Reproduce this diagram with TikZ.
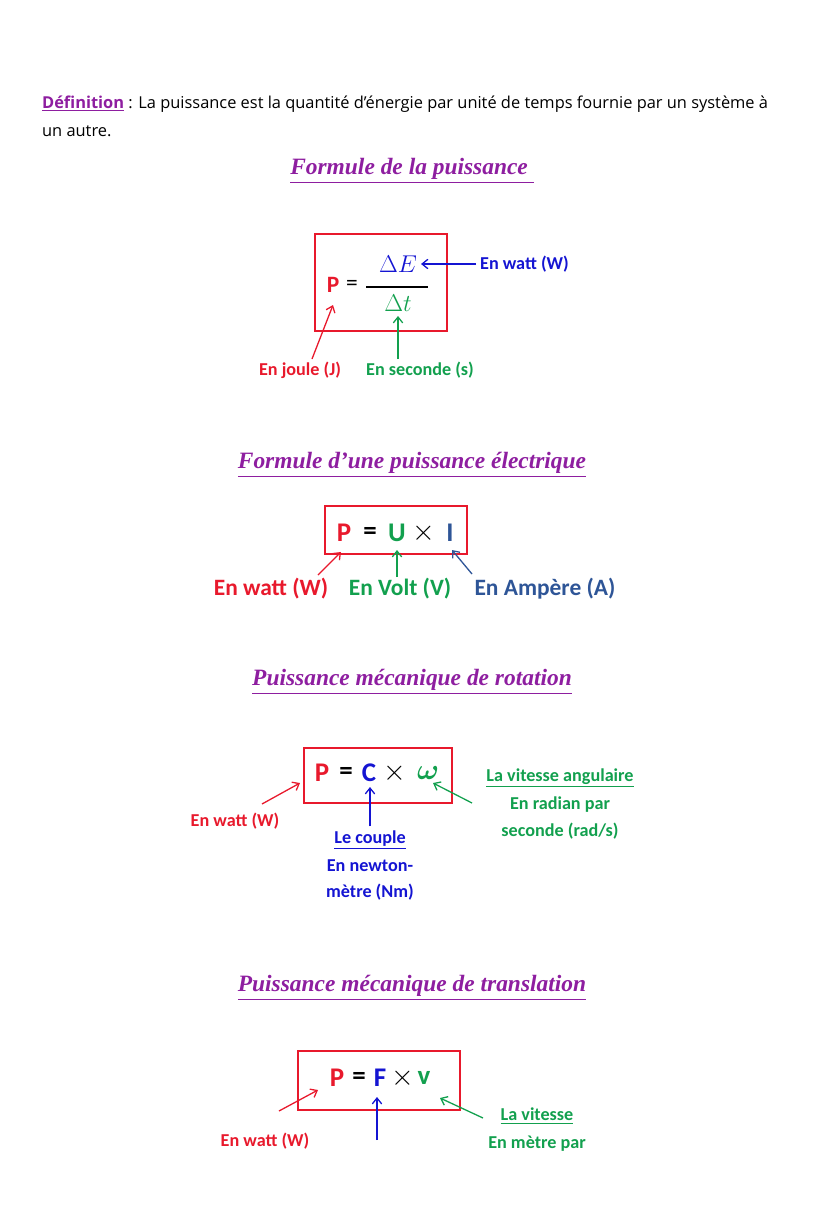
\documentclass[tikz,border=0pt]{standalone}
\usepackage{fontspec}
\setmainfont{Open Sans}
\newfontfamily\lab{Carlito}
\newfontfamily\head{Liberation Serif}
\usepackage{amsmath}
\usetikzlibrary{arrows.meta}
\definecolor{myred}{HTML}{E8192C}
\definecolor{myblue}{HTML}{1414D2}
\definecolor{mygreen}{HTML}{12A04E}
\definecolor{mydblue}{HTML}{2E5597}
\definecolor{mypurple}{HTML}{8E1EA0}
\tikzset{
  box/.style={draw=myred,line width=1.6pt},
  lbl/.style={font=\lab\bfseries\fontsize{15.5}{18}\selectfont},
  mid/.style={font=\lab\bfseries\fontsize{20}{24}\selectfont},
  big/.style={font=\lab\bfseries\fontsize{23}{26}\selectfont},
  heading/.style={font=\head\bfseries\itshape\fontsize{20}{24}\selectfont,text=mypurple},
  pointer/.style={-{Straight Barb[length=5pt,width=8pt]},line width=1.1pt}
}
\begin{document}
\begin{tikzpicture}[x=0.03cm,y=-0.03cm]
\useasboundingbox (0,0) rectangle (828,1206);
% definition
\node[anchor=west,font=\fontsize{14}{17}\selectfont] (def) at (38,104)
  {\textcolor{mypurple}{\bfseries\underline{Définition}} : La puissance est la quantité d’énergie par unité de temps fournie par un système à};
\node[anchor=west,font=\fontsize{14}{17}\selectfont] (def2) at (38,131) {un autre.};
% energie
\node[heading] (h1) at (412,171) {\underline{Formule de la puissance\ }};
\draw[box] (315,234) rectangle (447,331);
\node[mid,text=myred] (p1) at (333,285) {P};
\node[font=\lab\fontsize{20}{24}\selectfont] (eq1) at (352,285) {=};
\draw[line width=1pt] (366,287) -- (428,287);
\node[text=myblue,font=\fontsize{22}{24}\selectfont] (dE) at (398,264) {$\Delta E$};
\node[text=mygreen,font=\fontsize{22}{24}\selectfont] (dt) at (398,303) {$\Delta t$};
\node[lbl,text=myblue,anchor=west] (w1) at (476,264) {En watt (W)};
\node[lbl,text=myred] (j1) at (300,370) {En joule (J)};
\node[lbl,text=mygreen] (s1) at (420,370) {En seconde (s)};
\coordinate (j1t) at (312,359);
\coordinate (s1t) at (398,359);
\draw[pointer,myblue] (w1.west) -- (dE.east);
\draw[pointer,myred] (j1t) -- (333,305);
\draw[pointer,mygreen] (s1t) -- (398,316);
% electrique
\node[heading] (h2) at (412,465) {\underline{Formule d’une puissance électrique}};
\draw[box] (325,506) rectangle (467,554);
\node[big,text=myred] (p2) at (344,533) {P};
\node[big] (eq2) at (370,533) {=};
\node[big,text=mygreen] (u2) at (397,533) {U};
\node[big] (x2) at (424,533) {$\times$};
\node[big,text=mydblue] (i2) at (450,533) {I};
\node[mid,text=myred] (w2) at (271,589) {En watt (W)};
\node[mid,text=mygreen] (v2) at (400,589) {En Volt (V)};
\node[mid,text=mydblue] (a2) at (545,589) {En Ampère (A)};
\coordinate (w2t) at (318,575);
\coordinate (v2t) at (397,577);
\coordinate (a2t) at (472,574);
\draw[pointer,myred] (w2t) -- (341,552);
\draw[pointer,mygreen] (v2t) -- (397,550);
\draw[pointer,mydblue] (a2t) -- (452,550);
% rotation
\node[heading] (h3) at (412,682) {\underline{Puissance mécanique de rotation}};
\draw[box] (304,748) rectangle (452,803);
\node[big,text=myred] (p3) at (322,773) {P};
\node[big] (eq3) at (346,773) {=};
\node[big,text=myblue] (c3) at (369,773) {C};
\node[big] (x3) at (395,773) {$\times$};
\node[big,text=mygreen] (o3) at (428,773) {$\boldsymbol{\omega}$};
\node[lbl,text=myred] (w3) at (235,821) {En watt (W)};
\node[lbl,text=myblue] (c3a) at (370,840) {\underline{Le couple}};
\node[lbl,text=myblue] (c3b) at (370,866) {En newton-};
\node[lbl,text=myblue] (c3c) at (370,892) {mètre (Nm)};
\node[lbl,text=mygreen] (o3a) at (560,778) {\underline{La vitesse angulaire}};
\node[lbl,text=mygreen] (o3b) at (560,805) {En radian par};
\node[lbl,text=mygreen] (o3c) at (560,831) {seconde (rad/s)};
\coordinate (w3t) at (262,804);
\draw[pointer,myred] (w3t) -- (300,783);
\draw[pointer,myblue] (c3a.north) -- (370,787);
\draw[pointer,mygreen] (472,803) -- (433,783);
% translation
\node[heading] (h4) at (412,988) {\underline{Puissance mécanique de translation}};
\draw[box] (298,1051) rectangle (460,1110);
\node[big,text=myred] (p4) at (337,1078) {P};
\node[big] (eq4) at (359,1078) {=};
\node[big,text=myblue] (f4) at (380,1078) {F};
\node[big] (x4) at (403,1078) {$\times$};
\node[big,text=mygreen] (v4) at (424,1078) {v};
\node[lbl,text=myred] (w4) at (265,1141) {En watt (W)};
\node[lbl,text=mygreen] (v4a) at (537,1116) {\underline{La vitesse}};
\node[lbl,text=mygreen] (v4b) at (537,1144) {En mètre par};
\coordinate (w4t) at (279,1111);
\coordinate (f4t) at (377,1140);
\coordinate (v4t) at (483,1118);
\draw[pointer,myred] (w4t) -- (318,1090);
\draw[pointer,myblue] (f4t) -- (377,1097);
\draw[pointer,mygreen] (v4t) -- (440,1098);
\end{tikzpicture}
\end{document}
